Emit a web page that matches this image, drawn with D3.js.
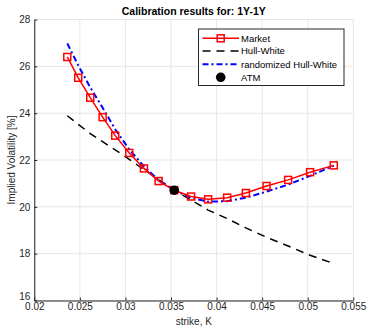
<!DOCTYPE html>
<html><head><meta charset="utf-8">
<script src="https://cdn.jsdelivr.net/npm/d3@7"></script>
<style>body{margin:0;background:#fff}svg{display:block;font-family:"Liberation Sans",Arial,sans-serif}</style>
</head><body><svg id="c" width="367" height="327"></svg>
<script>
const strikes = [0.02362,0.02482,0.02614,0.0275,0.02888,0.03042,0.03203,0.03364,0.03535,0.0372,0.03907,0.04116,0.04321,0.04548,0.04785,0.05026,0.05286];
const market  = [26.40,25.51,24.66,23.83,23.04,22.30,21.64,21.10,20.71,20.44,20.32,20.39,20.59,20.89,21.15,21.48,21.77];
const hullWhite = [23.89,23.52,23.13,22.78,22.43,22.03,21.59,21.17,20.71,20.29,19.86,19.50,19.10,18.70,18.33,17.93,17.58];
const randHW  = [26.98,26.04,25.10,24.23,23.31,22.45,21.73,21.14,20.71,20.38,20.22,20.24,20.39,20.65,20.95,21.32,21.76];
const atm = {k:0.03535, v:20.71};
const xTicks = [0.02,0.025,0.03,0.035,0.04,0.045,0.05,0.055];
const yTicks = [16,18,20,22,24,26,28];
const title = "Calibration results for: 1Y-1Y";
const xLabel = "strike, K";
const yLabel = "Implied Volatility [%]";
const legendItems = ["Market","Hull-White","randomized Hull-White","ATM"];

const svg = d3.select("#c");
const x = d3.scaleLinear().domain([0.02,0.055]).range([34.3,353.3]);
const y = d3.scaleLinear().domain([16,28]).range([300.5,19.5]);
const axC = "#262626";

// grid
const g = svg.append("g");
g.selectAll(".gx").data(xTicks).join("line").attr("x1",d=>x(d)).attr("x2",d=>x(d)).attr("y1",y(16)).attr("y2",y(28)).attr("stroke","#e6e6e6").attr("stroke-width",1);
g.selectAll(".gy").data(yTicks).join("line").attr("y1",d=>y(d)).attr("y2",d=>y(d)).attr("x1",x(0.02)).attr("x2",x(0.055)).attr("stroke","#e6e6e6").attr("stroke-width",1);

// axes
const xa = svg.append("g").attr("transform",`translate(0,${y(16)})`).call(d3.axisBottom(x).tickValues(xTicks).tickFormat(d=>String(+d.toFixed(3))).tickSizeInner(-3).tickSizeOuter(0).tickPadding(2));
const ya = svg.append("g").attr("transform",`translate(${x(0.02)},0)`).call(d3.axisLeft(y).tickValues(yTicks).tickSizeInner(-3).tickSizeOuter(0).tickPadding(4));
[xa,ya].forEach(a=>{a.select(".domain").attr("stroke",axC).attr("stroke-width",1);a.selectAll(".tick line").attr("stroke",axC);a.selectAll("text").attr("fill",axC).style("font-size","10px").style("font-family","Liberation Sans, Arial, sans-serif");});
ya.selectAll(".tick").filter(d=>d===16).select("text").attr("dy","-0.12em");

const line = d3.line().x(d=>x(d[0])).y(d=>y(d[1]));
const zip = arr => strikes.map((k,i)=>[k,arr[i]]);

svg.append("path").attr("d",line(zip(hullWhite))).attr("fill","none").attr("stroke","#000").attr("stroke-width",1.5).attr("stroke-dasharray","8,6");
svg.append("path").attr("d",line(zip(randHW))).attr("fill","none").attr("stroke","#0000ff").attr("stroke-width",2).attr("stroke-dasharray","6,3,2,3");
svg.append("path").attr("d",line(zip(market))).attr("fill","none").attr("stroke","#ff0000").attr("stroke-width",1.5);
svg.selectAll(".mk").data(zip(market)).join("rect").attr("x",d=>x(d[0])-3.5).attr("y",d=>y(d[1])-3.5).attr("width",7).attr("height",7).attr("fill","none").attr("stroke","#ff0000").attr("stroke-width",1.5);
svg.append("circle").attr("cx",x(atm.k)).attr("cy",y(atm.v)).attr("r",4.8).attr("fill","#000");

// title and labels
svg.append("text").attr("x",193.8).attr("y",15).attr("text-anchor","middle").style("font-size","10.5px").style("font-weight","bold").attr("fill","#000").text(title);
svg.append("text").attr("x",193.8).attr("y",325).attr("text-anchor","middle").style("font-size","10px").attr("fill",axC).text(xLabel);
svg.append("text").attr("transform",`translate(15,160) rotate(-90)`).attr("text-anchor","middle").style("font-size","10px").attr("fill",axC).text(yLabel);

// legend
const lg = svg.append("g");
lg.append("rect").attr("x",198.5).attr("y",29).attr("width",145.5).attr("height",56.5).attr("fill","#fff").attr("stroke",axC).attr("stroke-width",1);
const ly = [38.3,51,64.3,77.3];
lg.append("line").attr("x1",202.5).attr("x2",239).attr("y1",ly[0]).attr("y2",ly[0]).attr("stroke","#ff0000").attr("stroke-width",1.5);
lg.append("rect").attr("x",220.7-3.5).attr("y",ly[0]-3.5).attr("width",7).attr("height",7).attr("fill","none").attr("stroke","#ff0000").attr("stroke-width",1.5);
lg.append("line").attr("x1",202.5).attr("x2",239).attr("y1",ly[1]).attr("y2",ly[1]).attr("stroke","#000").attr("stroke-width",1.5).attr("stroke-dasharray","8,6");
lg.append("line").attr("x1",202.5).attr("x2",239).attr("y1",ly[2]).attr("y2",ly[2]).attr("stroke","#0000ff").attr("stroke-width",2).attr("stroke-dasharray","6,3,2,3");
lg.append("circle").attr("cx",220.7).attr("cy",ly[3]).attr("r",4.8).attr("fill","#000");
lg.selectAll(".lt").data(legendItems).join("text").attr("x",241).attr("y",(d,i)=>ly[i]+3.4).style("font-size","9.5px").attr("fill","#000").text(d=>d);
</script></body></html>
